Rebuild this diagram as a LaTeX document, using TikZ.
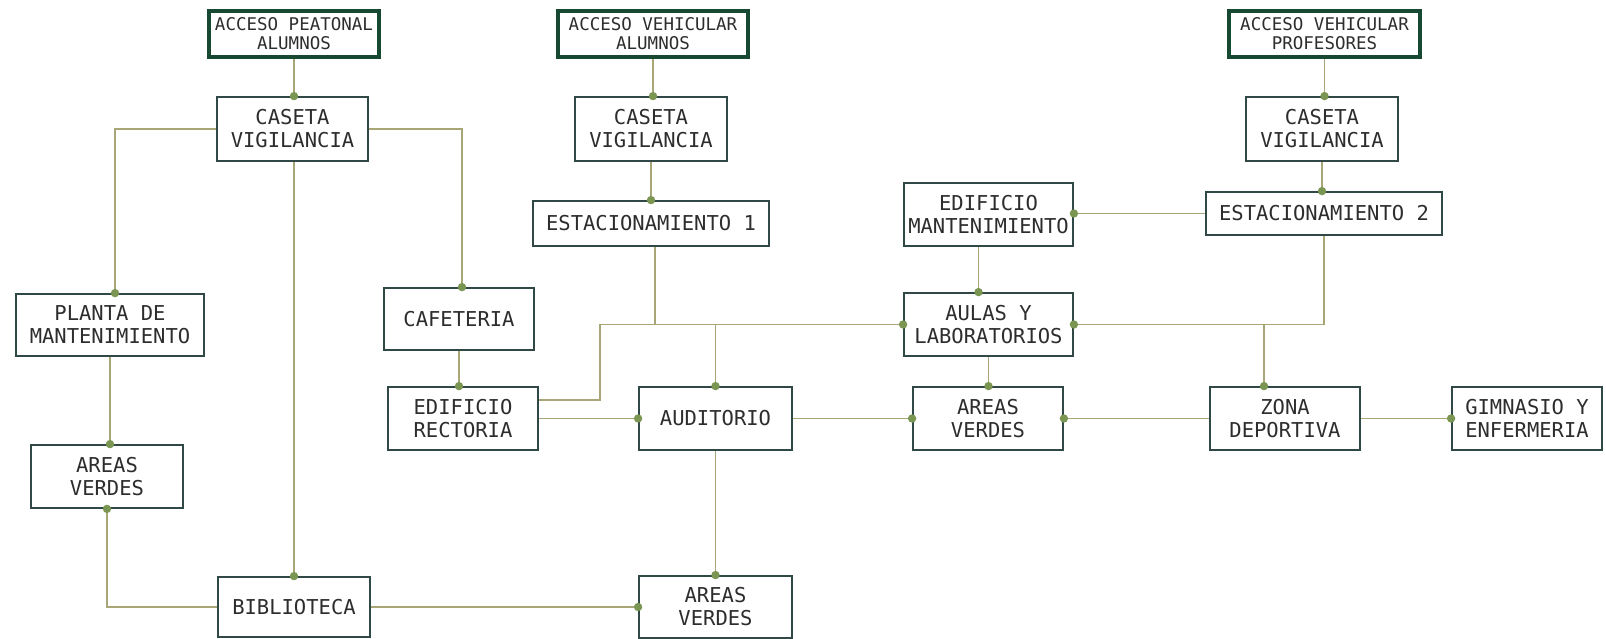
\documentclass[tikz,border=0pt]{standalone}
\usepackage{fontspec}
\newfontfamily\cad{DejaVu Sans Mono}
\definecolor{boxc}{RGB}{48,72,70}
\definecolor{accc}{RGB}{22,72,50}
\definecolor{lnc}{RGB}{168,166,118}
\definecolor{dotc}{RGB}{122,150,82}
\definecolor{txtc}{RGB}{45,45,45}
\tikzset{
  box/.style={draw=boxc, line width=1.8pt, fill=white, align=center, inner sep=0pt, text=txtc,
    font=\cad\fontsize{20.5}{23}\selectfont},
  acc/.style={box, draw=accc, line width=3.6pt, font=\cad\fontsize{17.5}{19}\selectfont},
  ln/.style={draw=lnc, line width=1.6pt},
  dt/.style={fill=dotc}
}
\begin{document}
\begin{tikzpicture}[x=1pt,y=-1pt]
\useasboundingbox (0,0) rectangle (1606,639);
\fill[white] (0,0) rectangle (1606,639);
% nodes
\node[acc, minimum width=170, minimum height=46] (ap)  at (294,34)   {ACCESO PEATONAL\\ALUMNOS};
\node[acc, minimum width=190, minimum height=46] (ava) at (653,34)   {ACCESO VEHICULAR\\ALUMNOS};
\node[acc, minimum width=191, minimum height=46] (avp) at (1324.5,34) {ACCESO VEHICULAR\\PROFESORES};
\node[box, minimum width=151, minimum height=64] (c1) at (292.5,129) {CASETA\\VIGILANCIA};
\node[box, minimum width=152, minimum height=64] (c2) at (651,129)   {CASETA\\VIGILANCIA};
\node[box, minimum width=152, minimum height=64] (c3) at (1322,129)  {CASETA\\VIGILANCIA};
\node[box, minimum width=236, minimum height=45] (est1) at (651,223.5) {ESTACIONAMIENTO 1};
\node[box, minimum width=169, minimum height=63] (edm) at (988.5,214.5) {EDIFICIO\\MANTENIMIENTO};
\node[box, minimum width=236, minimum height=43] (est2) at (1324,213.5) {ESTACIONAMIENTO 2};
\node[box, minimum width=188, minimum height=62] (planta) at (110,325) {PLANTA DE\\MANTENIMIENTO};
\node[box, minimum width=150, minimum height=62] (caf) at (459,319) {CAFETERIA};
\node[box, minimum width=169, minimum height=63] (aulas) at (988.5,324.5) {AULAS Y\\LABORATORIOS};
\node[box, minimum width=150, minimum height=63] (rect) at (463,418.5) {EDIFICIO\\RECTORIA};
\node[box, minimum width=153, minimum height=63] (aud) at (715.5,418.5) {AUDITORIO};
\node[box, minimum width=150, minimum height=63] (avm) at (988,418.5) {AREAS\\VERDES};
\node[box, minimum width=150, minimum height=63] (zona) at (1285,418.5) {ZONA\\DEPORTIVA};
\node[box, minimum width=150, minimum height=63] (gim) at (1527,418.5) {GIMNASIO Y\\ENFERMERIA};
\node[box, minimum width=152, minimum height=63] (avl) at (107,476.5) {AREAS\\VERDES};
\node[box, minimum width=152, minimum height=60] (bib) at (294,607) {BIBLIOTECA};
\node[box, minimum width=153, minimum height=62] (avb) at (715.5,607) {AREAS\\VERDES};
% connectors
\draw[ln] (ap.south) -- (ap.south |- c1.north) coordinate (p1);
\draw[ln] (c1.west) -| ([xshift=5pt]planta.north) coordinate (p2);
\draw[ln] (c1.east) -| ([xshift=3pt]caf.north) coordinate (p3);
\draw[ln] (c1.south -| bib.north) -- (bib.north) coordinate (p4);
\draw[ln] (ava.south) -- (ava.south |- c2.north) coordinate (p5);
\draw[ln] (c2.south) -- (c2.south |- est1.north) coordinate (p6);
\draw[ln] ([xshift=4pt]est1.south) -- ([xshift=4pt]est1.south |- aulas.west);
\draw[ln] (aulas.west) coordinate (p7) -- (600,324.5) coordinate (k1) -- (600,400) coordinate (k2) -- (rect.east |- k2);
\draw[ln] (aud.north |- aulas.west) -- (aud.north) coordinate (p8);
\draw[ln] (rect.east) -- (aud.west) coordinate (p9);
\draw[ln] (caf.south) -- (caf.south |- rect.north) coordinate (p10);
\draw[ln] (aud.east) -- (avm.west) coordinate (p11);
\draw[ln] (aud.south) -- (avb.north) coordinate (p12);
\draw[ln] (avp.south) -- (avp.south |- c3.north) coordinate (p13);
\draw[ln] (c3.south) -- (c3.south |- est2.north) coordinate (p14);
\draw[ln] (est2.west) -- (est2.west -| edm.east) coordinate (p15);
\draw[ln] ([xshift=-10pt]edm.south) -- ([xshift=-10pt]edm.south |- aulas.north) coordinate (p16);
\draw[ln] (est2.south) -- (est2.south |- aulas.east) -- (aulas.east) coordinate (p17);
\draw[ln] ([xshift=-21pt]zona.north |- aulas.east) -- ([xshift=-21pt]zona.north) coordinate (p18);
\draw[ln] (aulas.south) -- (aulas.south |- avm.north) coordinate (p19);
\draw[ln] (zona.west) -- (avm.east) coordinate (p20);
\draw[ln] (zona.east) -- (gim.west) coordinate (p21);
\draw[ln] (planta.south) -- (planta.south |- avl.north) coordinate (p22);
\draw[ln] (avl.south) coordinate (p23) -- (avl.south |- bib.west) -- (bib.west);
\draw[ln] (bib.east) -- (avb.west) coordinate (p24);
% dots
\foreach \p in {p1,p2,p3,p4,p5,p6,p7,p8,p9,p10,p11,p12,p13,p14,p15,p16,p17,p18,p19,p20,p21,p22,p23,p24}
  \fill[dt] (\p) circle[radius=4.2pt];
\end{tikzpicture}
\end{document}
